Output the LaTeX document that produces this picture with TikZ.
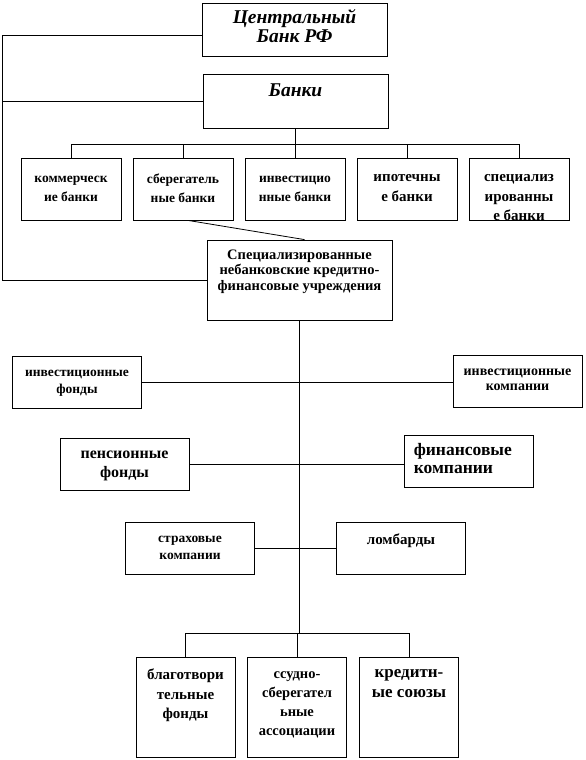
\documentclass[tikz,border=0pt]{standalone}
\usepackage{fontspec}
\setmainfont{Liberation Serif}
\usetikzlibrary{positioning}
\tikzset{
    % plain rectangular frame of an institution
    inst/.style={draw, line width=0.8pt, inner sep=0pt},
    % frame sizes used more than once
    bankbox/.style={inst, minimum width=100pt, minimum height=62pt},
    sidebox/.style={inst, minimum width=129pt, minimum height=52pt},
    lowbox/.style={inst, minimum width=99pt, minimum height=100pt},
    % caption hung from the top edge of its frame
    inscr/.style={anchor=north, align=center, inner sep=0pt,
                font=\bfseries\fontsize{13.5}{19.5}\selectfont},
    banner/.style={inscr, font=\bfseries\itshape\fontsize{19.5}{18.5}\selectfont},
    % connecting wires
    wire/.style={line width=0.8pt},
}
\newcommand{\fsz}[2]{\bfseries\fontsize{#1}{#2}\selectfont}

\begin{document}
\begin{tikzpicture}[x=1pt, y=-1pt]
    \useasboundingbox (0,0) rectangle (586,760);

    % ===== top: central bank and banks =====
    \node[inst, minimum width=185pt, minimum height=53pt] (cb) at (294.5, 29.5) {};
    \node[banner, below=7pt of cb.north] (cb-t) {Центральный\\Банк РФ};
    \node[inst, minimum width=185pt, minimum height=54pt] (banki) at (295.5, 101) {};
    \node[banner, below=10pt of banki.north] (banki-t) {Банки};

    % bank kinds
    \node[bankbox] (kom) at (71, 189)  {};
    \node[bankbox] (sbr) at (183, 189) {};
    \node[bankbox] (inv) at (295, 189) {};
    \node[bankbox] (ipo) at (407, 189) {};
    \node[bankbox] (spz) at (519, 189) {};
    \node[inscr, below=18pt of kom.north] (kom-t) {коммерческ\\ие банки};
    \node[inscr, below=16pt of sbr.north] (sbr-t) {сберегатель\\ные банки};
    \node[inscr, below=18pt of inv.north] (inv-t) {инвестицио\\нные банки};
    \node[inscr, below=17pt of ipo.north, font=\fsz{15}{19.5}] (ipo-t) {ипотечны\\е банки};
    \node[inscr, below=17pt of spz.north, font=\fsz{15}{19.5}] (spz-t) {специализ\\ированны\\е банки};

    % ===== non-bank institutions =====
    \node[inst, minimum width=185pt, minimum height=80pt] (spec) at (299.5, 280) {};
    \node[inscr, below=10pt of spec.north, font=\fsz{14.5}{15.5}] (spec-t)
        {Специализированные\\небанковские кредитно-\\финансовые учреждения};

    \node[sidebox] (ifund) at (77, 382)      {};
    \node[sidebox] (icomp) at (517.5, 381.5) {};
    \node[sidebox] (pens)  at (124.5, 464.5) {};
    \node[sidebox] (fin)   at (468.5, 461.5) {};
    \node[sidebox] (ins)   at (190, 548)     {};
    \node[sidebox] (lomb)  at (401, 548)     {};
    \node[inscr, below=14pt of ifund.north, font=\fsz{13.5}{17}] (ifund-t)
        {инвестиционные\\фонды};
    \node[inscr, below=14pt of icomp.north, font=\fsz{14}{14.5}] (icomp-t)
        {инвестиционные\\компании};
    \node[inscr, below=13pt of pens.north, font=\fsz{16}{19}] (pens-t)
        {пенсионные\\фонды};
    \node[inscr, anchor=north west, align=left, font=\fsz{17.5}{18}]
        (fin-t) at ([xshift=10pt, yshift=-8pt]fin.north west) {финансовые\\компании};
    \node[inscr, below=14pt of ins.north, font=\fsz{13.5}{17}] (ins-t)
        {страховые\\компании};
    \node[inscr, below=12pt of lomb.north, font=\fsz{15}{17}] (lomb-t) {ломбарды};

    \node[lowbox] (blag) at (185.5, 707) {};
    \node[lowbox] (ssud) at (297, 707)   {};
    \node[lowbox] (kred) at (409, 707)   {};
    \node[inscr, below=12pt of blag.north, font=\fsz{15}{19.5}] (blag-t) {благотвори\\тельные\\фонды};
    \node[inscr, below=15pt of ssud.north, font=\fsz{14.5}{19}] (ssud-t) {ссудно-\\сберегател\\ьные\\ассоциации};
    \node[inscr, below=13pt of kred.north, font=\fsz{17}{20}] (kred-t)
        {кредитн-\\ые союзы};

    % ===== wires =====
    \coordinate (lbus) at (2, 0);
    \coordinate (bbus) at (0, 144);
    \coordinate (sbus) at (0, 633);

    % left rail from the central bank
    \draw[wire] ([yshift=-5.5pt]cb.west) -- ([yshift=-5.5pt]cb.west -| lbus) |- (spec.west);
    \draw[wire] (banki.west) -- (banki.west -| lbus);

    % banks to bank kinds
    \draw[wire] (banki.south) -- (banki.south |- bbus);
    \draw[wire] (kom.north) |- (spz.north |- bbus) -- (spz.north);
    \foreach \b in {sbr, inv, ipo}
        \draw[wire] (\b.north) -- (\b.north |- bbus);
    \draw[wire] ([xshift=5pt]sbr.south) -- ([xshift=5pt]spec.north);

    % trunk of the non-bank institutions
    \draw[wire] (spec.south) -- (spec.south |- sbus);
    \draw[wire] (ifund.east) -- (ifund.east -| icomp.west);
    \draw[wire] (pens.east) -- (pens.east -| fin.west);
    \draw[wire] (ins.east) -- (lomb.west);
    \draw[wire] (blag.north) |- (kred.north |- sbus) -- (kred.north);
    \draw[wire] (ssud.north) -- (ssud.north |- sbus);
\end{tikzpicture}
\end{document}
